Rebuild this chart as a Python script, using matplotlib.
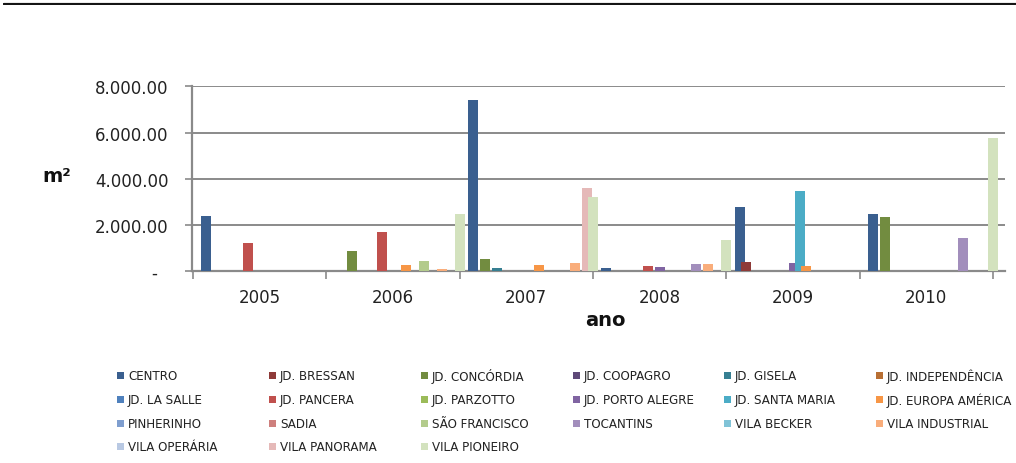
import matplotlib
matplotlib.use("Agg")
import matplotlib.pyplot as plt
from matplotlib.patches import Rectangle
from matplotlib.lines import Line2D
from matplotlib.ticker import FixedLocator, FixedFormatter

years = ["2005", "2006", "2007", "2008", "2009", "2010"]

series_names = [
    "CENTRO", "JD. BRESSAN", "JD. CONCÓRDIA", "JD. COOPAGRO", "JD. GISELA", "JD. INDEPENDÊNCIA",
    "JD. LA SALLE", "JD. PANCERA", "JD. PARZOTTO", "JD. PORTO ALEGRE", "JD. SANTA MARIA", "JD. EUROPA AMÉRICA",
    "PINHERINHO", "SADIA", "SÃO FRANCISCO", "TOCANTINS", "VILA BECKER", "VILA INDUSTRIAL",
    "VILA OPERÁRIA", "VILA PANORAMA", "VILA PIONEIRO",
]

centro = [2380, 0, 7400, 140, 2800, 2470]
jd_bressan = [0, 0, 0, 0, 415, 0]
jd_concordia = [0, 870, 520, 0, 0, 2365]
jd_coopagro = [0, 0, 0, 0, 0, 0]
jd_gisela = [0, 0, 140, 0, 0, 0]
jd_independencia = [0, 0, 0, 0, 0, 0]
jd_la_salle = [0, 0, 0, 0, 0, 0]
jd_pancera = [1210, 1690, 0, 240, 30, 0]
jd_parzotto = [0, 0, 0, 0, 0, 0]
jd_porto_alegre = [0, 0, 0, 200, 350, 0]
jd_santa_maria = [0, 20, 0, 0, 3490, 0]
jd_europa_america = [0, 270, 270, 0, 240, 0]
pinherinho = [0, 0, 0, 0, 0, 0]
sadia = [0, 0, 0, 0, 0, 0]
sao_francisco = [0, 460, 0, 0, 0, 0]
tocantins = [0, 0, 0, 300, 0, 1430]
vila_becker = [0, 0, 0, 0, 0, 0]
vila_industrial = [0, 90, 360, 300, 30, 0]
vila_operaria = [0, 0, 0, 0, 0, 0]
vila_panorama = [0, 0, 3590, 0, 0, 0]
vila_pioneiro = [0, 2490, 3200, 1360, 0, 5760]

values = [
    centro, jd_bressan, jd_concordia, jd_coopagro, jd_gisela, jd_independencia,
    jd_la_salle, jd_pancera, jd_parzotto, jd_porto_alegre, jd_santa_maria, jd_europa_america,
    pinherinho, sadia, sao_francisco, tocantins, vila_becker, vila_industrial,
    vila_operaria, vila_panorama, vila_pioneiro,
]

colors = [
    "#3A5F8F", "#8E3A38", "#728C40", "#5E4978", "#367F92", "#B86F33",
    "#4F81BD", "#C0504D", "#9BBB59", "#8064A2", "#4BACC6", "#F79646",
    "#7F9ECF", "#CE7F7D", "#B3CB8C", "#A28EBC", "#80C3D7", "#F9AD7B",
    "#B9C9E3", "#E5B9B8", "#D3E2BE",
]

yticks = [0, 2000, 4000, 6000, 8000]
ytick_labels = ["-  ", "2.000.00", "4.000.00", "6.000.00", "8.000.00"]

W, H = 1016, 464
fig = plt.figure(figsize=(W / 100, H / 100), dpi=100)
fig.patch.set_facecolor("white")

# layout (pixels)
ax_left, ax_right, ax_top, ax_bottom = 192, 1005, 87.3, 272.3
group_px = 133.3
first_group_px = 193
ax = fig.add_axes([ax_left / W, 1 - ax_bottom / H, (ax_right - ax_left) / W, (ax_bottom - ax_top) / H])

offset0 = 13.5 / group_px
step = 6.0 / group_px
bw = 10.0 / group_px
for k, (name, vals, c) in enumerate(zip(series_names, values, colors)):
    xs = [i - 0.5 + offset0 + step * k for i in range(len(years))]
    ax.bar(xs, vals, width=bw, color=c, edgecolor="none", label=name, zorder=3)

x_left = -0.5 - (first_group_px - ax_left) / group_px
x_right = -0.5 + (ax_right - first_group_px) / group_px
ax.set_xlim(x_left, x_right)
ax.set_ylim(0, 8000)

grid_c = "#8A8A8A"
ax.yaxis.set_major_locator(FixedLocator(yticks))
ax.yaxis.set_major_formatter(FixedFormatter(ytick_labels))
ax.grid(axis="y", color=grid_c, lw=1.4, zorder=0)
ax.grid(axis="x", visible=False)

ax.xaxis.set_major_locator(FixedLocator([i - 0.5 for i in range(len(years) + 1)]))
ax.xaxis.set_major_formatter(FixedFormatter([""] * (len(years) + 1)))
ax.xaxis.set_minor_locator(FixedLocator(list(range(len(years)))))
ax.xaxis.set_minor_formatter(FixedFormatter(years))
ax.tick_params(axis="x", which="major", length=6, color=grid_c, width=1.2, direction="out")
ax.tick_params(axis="x", which="minor", length=0, pad=12, labelsize=12, labelcolor="#222222")
ax.tick_params(axis="y", length=5, color=grid_c, width=1.2, pad=12, labelsize=12, labelcolor="#222222")

for s in ["top", "right"]:
    ax.spines[s].set_visible(False)
for s in ["left", "bottom"]:
    ax.spines[s].set_color(grid_c)
    ax.spines[s].set_linewidth(1.6)

# axis titles
fig.text(57 / W, 1 - 177 / H, "m²", ha="center", va="center", fontsize=14, fontweight="bold", color="#111111")
fig.text(605 / W, 1 - 320 / H, "ano", ha="center", va="center", fontsize=14, fontweight="bold", color="#111111")

# top rule line
fig.add_artist(Line2D([4 / W, 1.0], [1 - 3.5 / H, 1 - 3.5 / H], color="#9a9a9a", lw=1.0))
fig.add_artist(Line2D([4 / W, 1.0], [1 - 5 / H, 1 - 5 / H], color="#111111", lw=1.4))

# legend (row-major, 6 columns)
col_x = [117, 269, 421, 573, 724, 876]
row_y = [376.5, 400.5, 424, 447.5]
sq = 7
for k, (name, c) in enumerate(zip(series_names, colors)):
    r, cidx = divmod(k, 6)
    x0, y0 = col_x[cidx], row_y[r]
    fig.add_artist(Rectangle((x0 / W, 1 - (y0 + sq / 2) / H), sq / W, sq / H,
                             transform=fig.transFigure, facecolor=c, edgecolor="none"))
    fig.text((x0 + 11) / W, 1 - y0 / H, name, ha="left", va="center", fontsize=8.6, color="#222222")

fig.savefig("out.png", dpi=100, facecolor="white")
